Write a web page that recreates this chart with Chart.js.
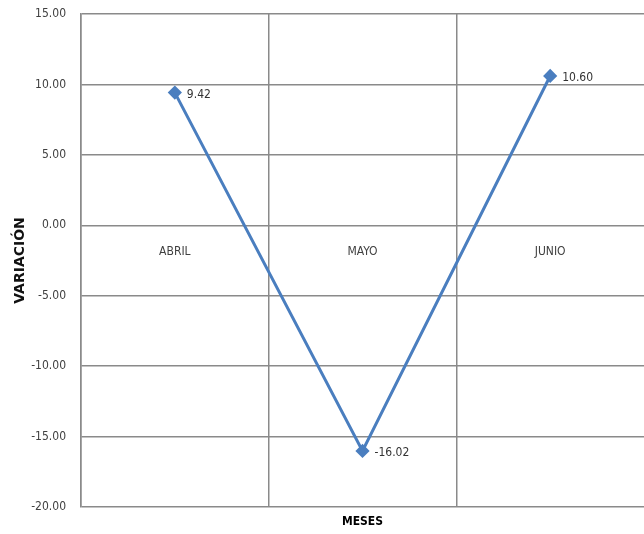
<!DOCTYPE html>
<html lang="es">
<head>
    <meta charset="UTF-8">
    <title>Variación por mes</title>
    <script src="https://cdn.jsdelivr.net/npm/chart.js"></script>
    <style>
        * { margin: 0; padding: 0; box-sizing: border-box; }
        body { background: #ffffff; overflow: hidden; }
        canvas { display: block; }
    </style>
</head>
<body>
    <canvas id="grafico" width="644" height="534"></canvas>
    <script>
        // datos
        const meses = ['ABRIL', 'MAYO', 'JUNIO'];
        const variacion = [9.42, -16.02, 10.60];
        const yMin = -20;
        const yMax = 15;
        const yPaso = 5;

        const fuente = "'Liberation Sans Narrow', 'DejaVu Sans Condensed', 'Liberation Sans', sans-serif";
        const gris = '#8a8a8a';

        // etiquetas de valor junto a cada punto
        const etiquetas = {
            id: 'etiquetas',
            afterDatasetsDraw(chart) {
                const ctx = chart.ctx;
                const meta = chart.getDatasetMeta(0);
                ctx.save();
                ctx.font = '12px ' + fuente;
                ctx.fillStyle = '#333333';
                ctx.textAlign = 'left';
                ctx.textBaseline = 'middle';
                meta.data.forEach((pt, i) => {
                    ctx.fillText(variacion[i].toFixed(2), pt.x + 12, pt.y + 2);
                });
                ctx.restore();
            }
        };

        // sin relleno extra alrededor del área de trazado
        const sinRelleno = (s) => {
            s.paddingLeft = 0;
            s.paddingRight = 0;
            s.paddingTop = 0;
            s.paddingBottom = 0;
        };

        const ctx = document.getElementById('grafico').getContext('2d');
        new Chart(ctx, {
            type: 'line',
            data: {
                labels: meses,
                datasets: [{
                    data: variacion,
                    borderColor: '#4a7ebf',
                    backgroundColor: '#4a7ebf',
                    borderWidth: 3,
                    pointStyle: 'rectRot',
                    pointRadius: 5,
                    pointHoverRadius: 5,
                    tension: 0,
                    fill: false
                }]
            },
            options: {
                responsive: false,
                animation: false,
                layout: {
                    autoPadding: false,
                    padding: { top: 14, right: 0, bottom: 0, left: 0 }
                },
                plugins: {
                    legend: { display: false },
                    tooltip: { enabled: false }
                },
                scales: {
                    x: {
                        type: 'category',
                        position: 'bottom',
                        offset: true,
                        grid: {
                            offset: true,
                            lineWidth: 1.5,
                            drawTicks: false,
                            // la línea del borde derecho no se ve en el original
                            color: (c) => c.index === undefined ? 'rgba(0,0,0,0)' : gris
                        },
                        border: { display: false },
                        ticks: { display: false },
                        title: {
                            display: true,
                            text: 'MESES',
                            color: '#000000',
                            font: { family: fuente, size: 12, weight: 'bold' },
                            padding: { top: 0, bottom: 5 }
                        },
                        afterFit: (s) => { s.height = 27; sinRelleno(s); }
                    },
                    x2: {
                        type: 'category',
                        position: { y: 0 },
                        offset: true,
                        grid: { display: false, drawTicks: false },
                        border: { display: false },
                        ticks: {
                            color: '#404040',
                            font: { family: fuente, size: 12 },
                            padding: 19,
                            maxRotation: 0
                        },
                        afterFit: (s) => { s.height = 0; sinRelleno(s); }
                    },
                    y: {
                        min: yMin,
                        max: yMax,
                        grid: { color: gris, lineWidth: 1.5, drawTicks: false },
                        border: { display: true, color: gris, width: 1.5 },
                        ticks: {
                            stepSize: yPaso,
                            padding: 15,
                            color: '#404040',
                            font: { family: fuente, size: 12 },
                            callback: (v) => Number(v).toFixed(2)
                        },
                        title: {
                            display: true,
                            text: 'VARIACIÓN',
                            color: '#111111',
                            font: { family: "'DejaVu Sans', sans-serif", size: 14, weight: 'bold' },
                            padding: { top: 12, bottom: 0 }
                        },
                        afterFit: (s) => { s.width = 81; sinRelleno(s); }
                    }
                }
            },
            plugins: [etiquetas]
        });
    </script>
</body>
</html>
